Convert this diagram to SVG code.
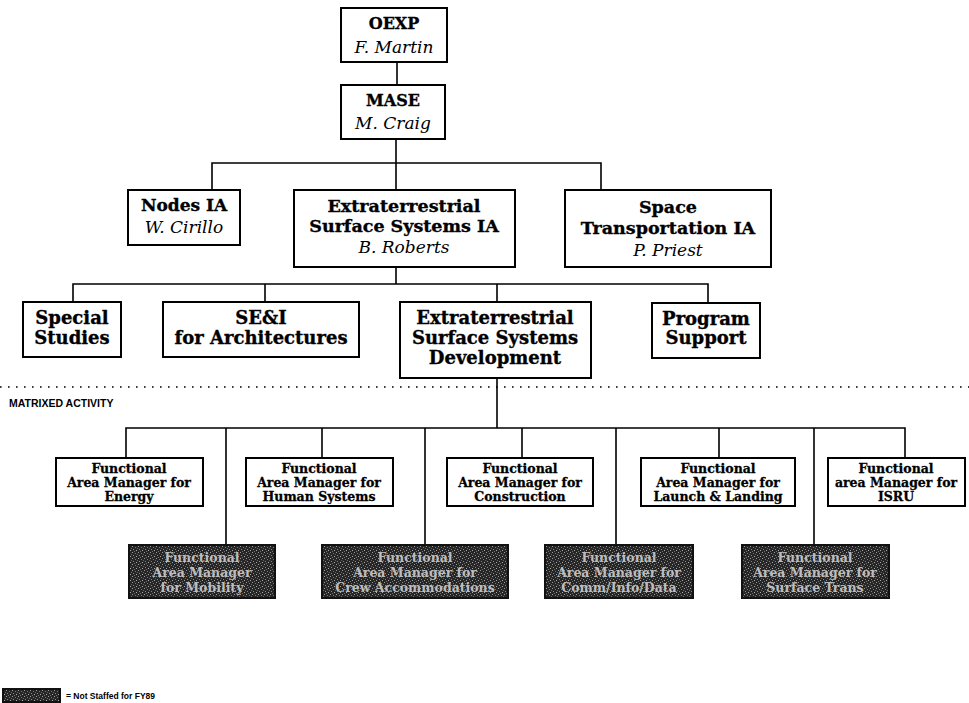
<svg xmlns="http://www.w3.org/2000/svg" width="969" height="703" viewBox="0 0 969 703">
<defs>
<pattern id="grain" width="6" height="6" patternUnits="userSpaceOnUse">
<rect width="6" height="6" fill="#262626"/>
<rect x="0" y="0" width="1" height="1" fill="#9a9a9a"/>
<rect x="3" y="1" width="1" height="1" fill="#777"/>
<rect x="1" y="3" width="1" height="1" fill="#888"/>
<rect x="4" y="4" width="1" height="1" fill="#aaa"/>
<rect x="5" y="2" width="1" height="1" fill="#666"/>
<rect x="2" y="5" width="1" height="1" fill="#707070"/>
</pattern>
</defs>
<style>
.box{fill:#fff;stroke:#000;stroke-width:2}
.dark{fill:url(#grain);stroke:#111;stroke-width:2}
.t{font-family:"DejaVu Serif",serif;font-weight:bold;text-anchor:middle;fill:#000;stroke:#000;stroke-width:0.35}
.n{font-family:"DejaVu Serif",serif;font-style:italic;text-anchor:middle;fill:#000}
.s{font-family:"DejaVu Serif",serif;font-weight:bold;font-size:12.5px;text-anchor:middle;fill:#000;stroke:#000;stroke-width:0.3}
.d{font-family:"DejaVu Serif",serif;font-weight:bold;font-size:12.5px;text-anchor:middle;fill:#bdbdbd}
.c{fill:none;stroke:#000;stroke-width:1.6}
</style>
<rect width="969" height="703" fill="#fff"/>
<g id="connectors">
<path class="c" d="M397 62V85"/>
<path class="c" d="M396 139V190M212 190V163H601V190"/>
<path class="c" d="M396 267V284M73 302V284H708V302M265 284V302M497 284V302"/>
<path class="c" d="M497 378V428M126 458V428H905V458M322 428V458M522 428V458M719 428V458"/>
<path class="c" d="M226 428V545M425 428V545M616 428V545M814 428V545"/>
<line x1="0" y1="387" x2="969" y2="387" stroke="#000" stroke-width="1.6" stroke-dasharray="1.6 6.4"/>
</g>
<text x="9" y="407" font-family="Liberation Sans,sans-serif" font-size="10.5" font-weight="bold" fill="#000">MATRIXED ACTIVITY</text>
<g id="oexp"><rect class="box" x="341" y="8" width="106" height="54"/>
<text class="t" x="394" y="29" font-size="16">OEXP</text><text class="n" x="394" y="53" font-size="17">F. Martin</text></g>
<g id="mase"><rect class="box" x="341" y="85" width="104" height="54"/>
<text class="t" x="393" y="106" font-size="16">MASE</text><text class="n" x="393" y="129" font-size="17">M. Craig</text></g>
<g id="nodes"><rect class="box" x="128" y="190" width="112" height="55"/>
<text class="t" x="184" y="211" font-size="17">Nodes IA</text><text class="n" x="184" y="233" font-size="17">W. Cirillo</text></g>
<g id="essia"><rect class="box" x="294" y="190" width="221" height="77"/>
<text class="t" x="404" y="212" font-size="17.5">Extraterrestrial</text><text class="t" x="404" y="232" font-size="17.5">Surface Systems IA</text><text class="n" x="404" y="253" font-size="17">B. Roberts</text></g>
<g id="stia"><rect class="box" x="565" y="190" width="206" height="77"/>
<text class="t" x="668" y="213" font-size="17.5">Space</text><text class="t" x="668" y="234" font-size="17.5">Transportation IA</text><text class="n" x="668" y="256" font-size="17">P. Priest</text></g>
<g id="special"><rect class="box" x="23" y="302" width="98" height="55"/>
<text class="t" x="72" y="324" font-size="18">Special</text><text class="t" x="72" y="344" font-size="18">Studies</text></g>
<g id="sei"><rect class="box" x="163" y="302" width="196" height="55"/>
<text class="t" x="261" y="324" font-size="18">SE&amp;I</text><text class="t" x="261" y="344" font-size="18">for Architectures</text></g>
<g id="essd"><rect class="box" x="400" y="302" width="191" height="76"/>
<text class="t" x="495" y="324" font-size="18">Extraterrestrial</text><text class="t" x="495" y="344" font-size="18">Surface Systems</text><text class="t" x="495" y="364" font-size="18">Development</text></g>
<g id="progsupport"><rect class="box" x="652" y="303" width="108" height="55"/>
<text class="t" x="706" y="325" font-size="18">Program</text><text class="t" x="706" y="344" font-size="18">Support</text></g>
<g id="energy"><rect class="box" x="56" y="458" width="147" height="48"/>
<text class="s" x="129" y="473">Functional</text><text class="s" x="129" y="487">Area Manager for</text><text class="s" x="129" y="501">Energy</text></g>
<g id="human"><rect class="box" x="246" y="458" width="147" height="48"/>
<text class="s" x="319" y="473">Functional</text><text class="s" x="319" y="487">Area Manager for</text><text class="s" x="319" y="501">Human Systems</text></g>
<g id="construction"><rect class="box" x="447" y="458" width="146" height="48"/>
<text class="s" x="520" y="473">Functional</text><text class="s" x="520" y="487">Area Manager for</text><text class="s" x="520" y="501">Construction</text></g>
<g id="launch"><rect class="box" x="641" y="458" width="154" height="48"/>
<text class="s" x="718" y="473">Functional</text><text class="s" x="718" y="487">Area Manager for</text><text class="s" x="718" y="501">Launch &amp; Landing</text></g>
<g id="isru"><rect class="box" x="828" y="458" width="137" height="48"/>
<text class="s" x="896" y="473">Functional</text><text class="s" x="896" y="487">area Manager for</text><text class="s" x="896" y="501">ISRU</text></g>
<g id="eva"><rect class="dark" x="129" y="545" width="146" height="53"/>
<text class="d" x="202" y="562">Functional</text><text class="d" x="202" y="577">Area Manager</text><text class="d" x="202" y="592">for Mobility</text></g>
<g id="crew"><rect class="dark" x="322" y="545" width="186" height="53"/>
<text class="d" x="415" y="562">Functional</text><text class="d" x="415" y="577">Area Manager for</text><text class="d" x="415" y="592">Crew Accommodations</text></g>
<g id="comm"><rect class="dark" x="545" y="545" width="148" height="53"/>
<text class="d" x="619" y="562">Functional</text><text class="d" x="619" y="577">Area Manager for</text><text class="d" x="619" y="592">Comm/Info/Data</text></g>
<g id="surftrans"><rect class="dark" x="742" y="545" width="147" height="53"/>
<text class="d" x="815" y="562">Functional</text><text class="d" x="815" y="577">Area Manager for</text><text class="d" x="815" y="592">Surface Trans</text></g>
<g id="legend"><rect class="dark" x="3" y="689" width="57" height="13"/>
<text x="66" y="699" font-family="Liberation Sans,sans-serif" font-size="8.5" font-weight="bold" fill="#000">= Not Staffed for FY89</text></g>
</svg>
